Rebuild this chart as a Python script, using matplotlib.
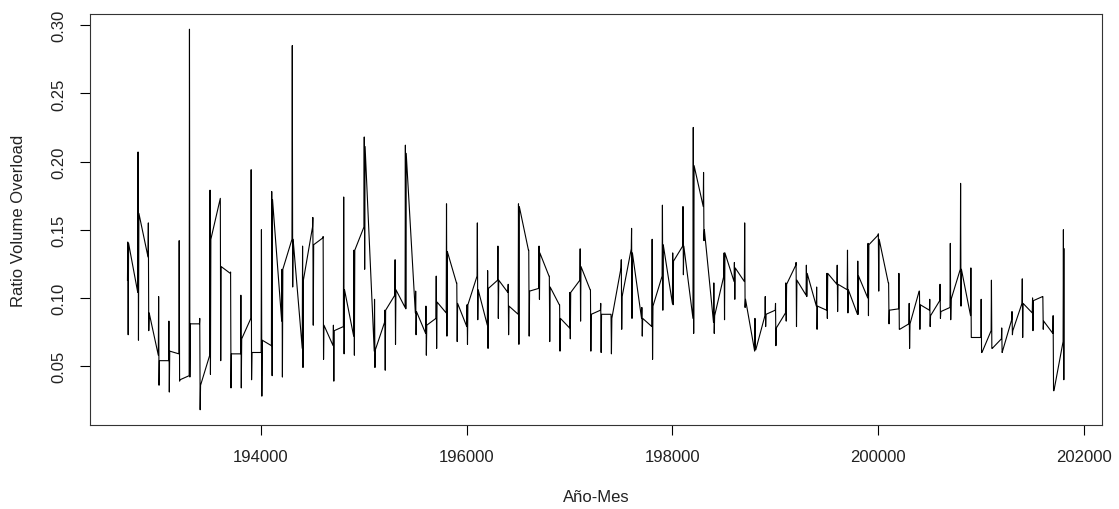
import numpy as np
import matplotlib
matplotlib.use("Agg")
import matplotlib.pyplot as plt

# yearly readings: first month, high, low, last month
years = list(range(1927, 2019))
first = [0.113, 0.104, 0.130, 0.058, 0.054, 0.059, 0.043, 0.081, 0.058, 0.172,
         0.118, 0.059, 0.085, 0.060, 0.065, 0.083, 0.143, 0.063, 0.152, 0.144,
         0.065, 0.079, 0.072, 0.152, 0.061, 0.082, 0.102, 0.093, 0.089, 0.074,
         0.085, 0.089, 0.111, 0.079, 0.116, 0.080, 0.113, 0.104, 0.088, 0.135,
         0.107, 0.116, 0.095, 0.078, 0.113, 0.106, 0.091, 0.088, 0.122, 0.136,
         0.085, 0.079, 0.116, 0.096, 0.138, 0.085, 0.167, 0.082, 0.116, 0.112,
         0.112, 0.061, 0.087, 0.091, 0.089, 0.124, 0.102, 0.094, 0.091, 0.110,
         0.106, 0.088, 0.100, 0.146, 0.111, 0.092, 0.081, 0.105, 0.091, 0.098,
         0.093, 0.121, 0.087, 0.071, 0.076, 0.070, 0.084, 0.096, 0.089, 0.101,
         0.074, 0.068]
high = [0.141, 0.207, 0.155, 0.101, 0.083, 0.142, 0.297, 0.085, 0.179, 0.173,
        0.119, 0.102, 0.194, 0.150, 0.178, 0.121, 0.285, 0.138, 0.159, 0.145,
        0.080, 0.174, 0.135, 0.218, 0.099, 0.091, 0.128, 0.212, 0.105, 0.094,
        0.116, 0.169, 0.111, 0.095, 0.155, 0.120, 0.138, 0.110, 0.169, 0.135,
        0.138, 0.116, 0.095, 0.104, 0.136, 0.106, 0.096, 0.088, 0.128, 0.151,
        0.093, 0.143, 0.168, 0.133, 0.167, 0.225, 0.192, 0.111, 0.133, 0.126,
        0.155, 0.085, 0.101, 0.096, 0.111, 0.126, 0.124, 0.108, 0.118, 0.124,
        0.135, 0.127, 0.140, 0.147, 0.111, 0.118, 0.096, 0.105, 0.099, 0.110,
        0.140, 0.184, 0.122, 0.099, 0.113, 0.078, 0.090, 0.114, 0.100, 0.101,
        0.087, 0.150]
low = [0.073, 0.069, 0.076, 0.036, 0.031, 0.039, 0.042, 0.018, 0.044, 0.054,
       0.034, 0.034, 0.040, 0.028, 0.043, 0.042, 0.108, 0.049, 0.080, 0.055,
       0.039, 0.059, 0.058, 0.121, 0.049, 0.047, 0.066, 0.092, 0.073, 0.058,
       0.063, 0.072, 0.068, 0.066, 0.084, 0.063, 0.085, 0.073, 0.066, 0.072,
       0.099, 0.068, 0.061, 0.070, 0.083, 0.061, 0.060, 0.059, 0.077, 0.085,
       0.072, 0.055, 0.091, 0.095, 0.117, 0.074, 0.142, 0.074, 0.084, 0.099,
       0.093, 0.062, 0.079, 0.065, 0.083, 0.079, 0.101, 0.077, 0.085, 0.090,
       0.089, 0.088, 0.087, 0.105, 0.081, 0.077, 0.063, 0.077, 0.079, 0.085,
       0.084, 0.094, 0.071, 0.060, 0.063, 0.060, 0.073, 0.071, 0.076, 0.077,
       0.032, 0.040]
last = [0.140, 0.162, 0.089, 0.054, 0.061, 0.040, 0.081, 0.036, 0.143, 0.123,
        0.059, 0.070, 0.060, 0.069, 0.172, 0.121, 0.143, 0.113, 0.139, 0.080,
        0.076, 0.106, 0.135, 0.211, 0.062, 0.091, 0.106, 0.206, 0.090, 0.080,
        0.097, 0.134, 0.096, 0.095, 0.106, 0.107, 0.113, 0.094, 0.167, 0.105,
        0.133, 0.108, 0.085, 0.104, 0.123, 0.088, 0.088, 0.085, 0.101, 0.133,
        0.085, 0.094, 0.139, 0.127, 0.138, 0.197, 0.150, 0.087, 0.133, 0.122,
        0.099, 0.062, 0.088, 0.078, 0.110, 0.113, 0.118, 0.094, 0.118, 0.110,
        0.106, 0.116, 0.139, 0.143, 0.091, 0.077, 0.081, 0.095, 0.087, 0.090,
        0.099, 0.121, 0.071, 0.060, 0.063, 0.061, 0.076, 0.096, 0.098, 0.083,
        0.032, 0.136]
months = [1, 4, 8, 12]

# build the YYYYMM series like the original
x = []
y = []
for i, yr in enumerate(years):
    vals = [first[i], high[i], low[i], last[i]]
    for m, v in zip(months, vals):
        x.append(yr * 100 + m)
        y.append(v)
x = np.array(x, dtype=float)
y = np.array(y)

plt.rcParams['font.family'] = ['Liberation Sans', 'DejaVu Sans']

fig = plt.figure(figsize=(11.19, 5.10), dpi=100)
ax = fig.add_axes([90 / 1119, 1 - 426 / 510, 1011.7 / 1119, 411 / 510])

ax.plot(x, y, color='black', linewidth=0.8)

# R style 4% padding
xr = x.max() - x.min()
yr_ = y.max() - y.min()
ax.set_xlim(x.min() - 0.04 * xr, x.max() + 0.04 * xr)
ax.set_ylim(y.min() - 0.04 * yr_, y.max() + 0.04 * yr_)

ax.set_xticks([194000, 196000, 198000, 200000, 202000])
ax.set_xticklabels(['194000', '196000', '198000', '200000', '202000'])
ax.set_yticks([0.05, 0.10, 0.15, 0.20, 0.25, 0.30])
ax.set_yticklabels(['0.05', '0.10', '0.15', '0.20', '0.25', '0.30'],
                   rotation=90, va='center')

ax.tick_params(axis='both', direction='out', length=7, width=0.8,
               labelsize=12, color='black', labelcolor='#222222')
ax.tick_params(axis='x', pad=10)
ax.tick_params(axis='y', pad=10)

for sp in ax.spines.values():
    sp.set_linewidth(0.8)
    sp.set_color('#333333')

ax.set_xlabel('Año-Mes', fontsize=12, color='#222222')
ax.set_ylabel('Ratio Volume Overload', fontsize=12, color='#222222')
ax.xaxis.set_label_coords(0.5, -0.173)
ax.yaxis.set_label_coords(-0.071, 0.5)
ax.xaxis.label.set_va('center')
ax.yaxis.label.set_va('center')

fig.savefig('out.png', dpi=100)
